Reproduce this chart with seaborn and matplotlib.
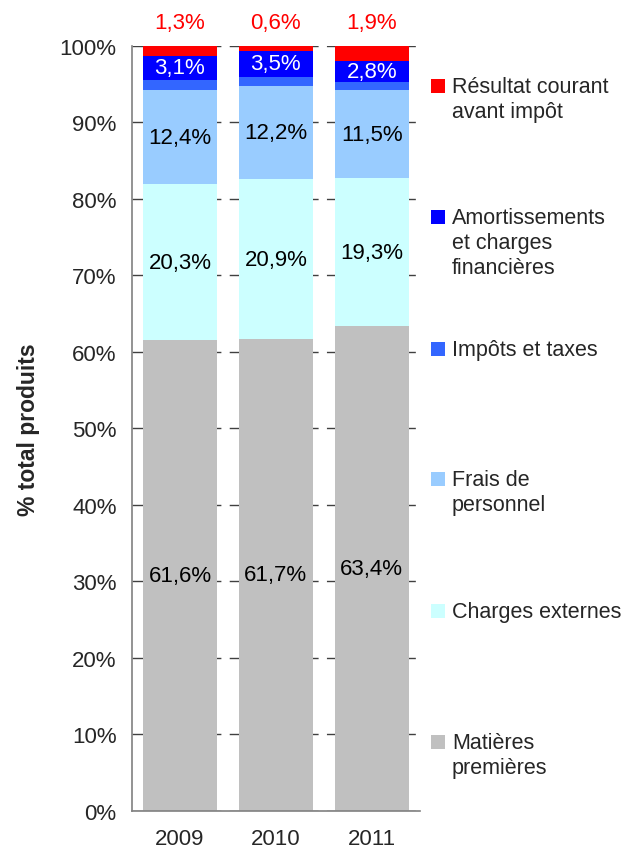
import numpy as np
import pandas as pd
import matplotlib
matplotlib.use("Agg")
import matplotlib.pyplot as plt
import seaborn as sns
from matplotlib.patches import Rectangle

# Données (% du total produits)
annees = ["2009", "2010", "2011"]
matieres = [61.6, 61.7, 63.4]
charges_ext = [20.3, 20.9, 19.3]
frais_perso = [12.4, 12.2, 11.5]
impots = [1.3, 1.1, 1.1]
amortissements = [3.1, 3.5, 2.8]
resultat = [1.3, 0.6, 1.9]

series = ["Matières premières", "Charges externes", "Frais de personnel",
          "Impôts et taxes", "Amortissements et charges financières",
          "Résultat courant avant impôt"]
valeurs = [matieres, charges_ext, frais_perso, impots, amortissements, resultat]
couleurs = ["#C0C0C0", "#CCFFFF", "#99CCFF", "#3366FF", "#0000FF", "#FF0000"]
legende = ["Matières\npremières", "Charges externes", "Frais de\npersonnel",
           "Impôts et taxes", "Amortissements\net charges\nfinancières",
           "Résultat courant\navant impôt"]

sns.set_style("white")
plt.rcParams["font.family"] = ["Liberation Sans", "DejaVu Sans"]

fig = plt.figure(figsize=(6.27, 8.54), dpi=100)
ax = fig.add_axes([0.2105, 0.0492, 0.459, 0.8958])

# ----------------------
# Barres empilées
# ----------------------
bas = np.zeros(len(annees))
for nom, vals, col in zip(series, valeurs, couleurs):
    df = pd.DataFrame({"annee": annees, "val": vals})
    sns.barplot(data=df, x="annee", y="val", color=col, width=0.77,
                bottom=bas, ax=ax, saturation=1, linewidth=0, zorder=2)
    vals = np.array(vals)
    for i, v in enumerate(vals):
        centre = bas[i] + v / 2
        txt = f"{v:.1f}%".replace(".", ",")
        if nom in ("Matières premières", "Charges externes", "Frais de personnel"):
            ax.text(i, centre, txt, ha="center", va="center", fontsize=16,
                    color="black", zorder=3)
        elif nom.startswith("Amortissements"):
            ax.text(i, centre, txt, ha="center", va="center", fontsize=16,
                    color="white", zorder=3)
        elif nom.startswith("Résultat"):
            ax.text(i, 103.1, txt, ha="center", va="center", fontsize=16,
                    color="#FF0000", clip_on=False)
    bas = bas + vals

# ----------------------
# Axes
# ----------------------
ax.set_xlim(-0.5, 2.5)
ax.set_ylim(0, 100)
ax.set_yticks(np.arange(0, 101, 10))
ax.set_yticklabels([f"{t}%" for t in range(0, 101, 10)], fontsize=16)
ax.set_xticks([-0.5, 0.5, 1.5, 2.5], minor=True)
ax.tick_params(axis="x", which="major", length=0, labelsize=16, pad=12)
ax.tick_params(axis="x", which="minor", length=6, direction="out",
               color="#606060", width=1)
ax.tick_params(axis="y", length=10, direction="inout", color="#404040",
               width=1, pad=6)
ax.set_xlabel("")
ax.set_ylabel("% total produits", fontsize=16.5, fontweight="bold", labelpad=14)
ax.yaxis.grid(True, linestyle=(0, (8, 6)), color="#404040", linewidth=1,
              zorder=0)
ax.set_axisbelow(True)
for s in ["top", "right"]:
    ax.spines[s].set_visible(False)
for s in ["left", "bottom"]:
    ax.spines[s].set_color("#808080")
    ax.spines[s].set_linewidth(1.2)

# ----------------------
# Légende
# ----------------------
W, H = 627, 854
legend_y = [743, 612, 480, 350, 218, 87]
for lab, col, y in zip(legende, couleurs, legend_y):
    fig.patches.append(Rectangle((431 / W, 1 - (y + 7) / H), 14 / W, 14 / H,
                                 transform=fig.transFigure, facecolor=col,
                                 edgecolor="none"))
    fig.text(452 / W, 1 - (y - 10) / H, lab, fontsize=15.5, va="top",
             ha="left", linespacing=1.26)

fig.savefig("out.png", dpi=100)
